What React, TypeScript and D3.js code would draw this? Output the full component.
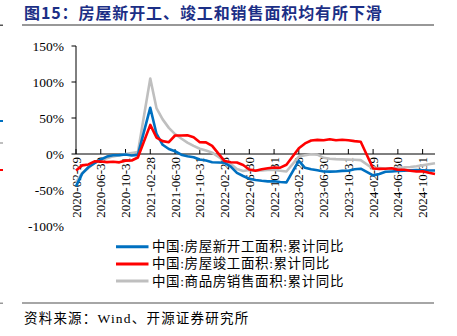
import React from "react";
import * as d3 from "d3";

const years = [2020, 2021, 2022, 2023, 2024];
const months = [2, 3, 4, 5, 6, 7, 8, 9, 10, 11, 12];

const newStarts = [
  -44.9, -27.2, -18.4, -12.8, -7.6, -3.6, -1.7, -1.5, -0.8, -2.0, -1.2,
  64.3, 28.2, 12.8, 6.9, 3.8, -0.9, -3.2, -4.5, -7.7, -9.1, -11.4,
  -12.2, -17.5, -26.3, -30.6, -34.4, -36.1, -37.2, -38.0, -37.8, -38.9, -39.4,
  -9.4, -19.2, -21.2, -22.6, -24.3, -24.5, -24.4, -23.4, -23.2, -21.2, -20.4,
  -29.7, -27.8, -24.6, -24.2, -23.7, -23.2, -22.5, -22.2, -22.6, -23.0, -23.0,
];
const completions = [
  -22.9, -15.8, -14.5, -10.3, -10.5, -11.3, -10.8, -11.6, -9.2, -9.0, -4.9,
  40.4, 22.9, 17.9, 16.4, 25.7, 25.7, 26.0, 23.4, 16.3, 16.2, 11.2,
  -9.8, -11.5, -11.9, -15.3, -21.5, -23.3, -21.1, -19.9, -18.7, -19.0, -15.0,
  8.0, 14.7, 18.8, 19.6, 19.0, 20.5, 19.2, 19.8, 19.0, 17.9, 17.0,
  -20.2, -20.7, -20.4, -19.8, -21.8, -21.8, -23.2, -24.4, -23.9, -26.0, -27.7,
];
const sales = [
  -39.9, -26.3, -19.3, -12.3, -8.4, -5.8, -3.3, -1.8, 0.0, 1.3, 2.6,
  104.9, 63.8, 48.1, 36.3, 27.7, 21.5, 15.9, 11.3, 7.3, 4.8, 1.9,
  -9.6, -13.8, -20.9, -23.6, -22.2, -23.1, -23.0, -22.2, -22.3, -23.3, -24.3,
  -3.6, -1.8, -0.4, -0.9, -5.3, -6.5, -7.1, -7.5, -7.8, -8.0, -8.5,
  -20.5, -19.4, -20.2, -20.3, -19.0, -18.6, -18.0, -17.1, -15.8, -14.3, -12.9,
];

const tickLabels = [
  "2020-02-29", "2020-06-30", "2020-10-31", "2021-02-28", "2021-06-30",
  "2021-10-31", "2022-02-28", "2022-06-30", "2022-10-31", "2023-02-28",
  "2023-06-30", "2023-10-31", "2024-02-29", "2024-06-30", "2024-10-31",
];
const yTicks = [-100, -50, 0, 50, 100, 150];

const seriesNames = [
  "中国:房屋新开工面积:累计同比",
  "中国:房屋竣工面积:累计同比",
  "中国:商品房销售面积:累计同比",
];
const seriesColors = ["#0070c0", "#ff0000", "#bfbfbf"];

const periods = years.flatMap((y) => months.map((m) => ({ y, m })));
const monthIndex = (y: number, m: number) => (y - 2020) * 12 + (m - 2);

const SERIF = "'Liberation Serif', 'Times New Roman', 'Noto Sans CJK SC', serif";

export default function App() {
  const x = d3.scaleLinear().domain([0, 58]).range([76, 435]);
  const y = d3.scaleLinear().domain([-100, 150]).range([226, 46]);

  const mk = (vals: number[]) =>
    vals.map((v, i) => ({ i: monthIndex(periods[i].y, periods[i].m), v }));
  const line = d3
    .line<{ i: number; v: number }>()
    .x((d) => x(d.i))
    .y((d) => y(d.v));

  const all = [newStarts, completions, sales];
  const drawOrder = [2, 0, 1];

  return (
    <svg
      width={457}
      height={336}
      style={{ position: "absolute", left: 0, top: 0, background: "#fff" }}
    >
      {/* stray edge marks */}
      <rect x={0} y={24.5} width={3} height={1.5} fill="#555" />
      <rect x={0} y={120} width={3} height={2} fill="#0070c0" />
      <rect x={0} y={142} width={3} height={2} fill="#bfbfbf" />
      <rect x={0} y={169} width={3} height={2} fill="#ff0000" />
      <rect x={0} y={302.5} width={3} height={1.5} fill="#999" />

      {/* title */}
      <text
        x={24}
        y={19}
        fontFamily="'Noto Sans CJK SC', sans-serif"
        fontWeight="bold"
        fontSize={16}
        letterSpacing={0.9}
        fill="#1c2f86"
      >
        图15：房屋新开工、竣工和销售面积均有所下滑
      </text>
      <line x1={22} x2={434} y1={25} y2={25} stroke="#333" strokeWidth={1.2} />

      {/* y axis */}
      <line x1={76} x2={76} y1={y(150)} y2={y(0)} stroke="#000" strokeWidth={1} />
      {yTicks.map((t) => (
        <g key={t}>
          {t >= 0 && (
            <line x1={71.5} x2={76} y1={y(t)} y2={y(t)} stroke="#000" strokeWidth={1} />
          )}
          <text
            x={64}
            y={y(t)}
            textAnchor="end"
            dominantBaseline="central"
            fontFamily={SERIF}
            fontSize={13.5}
            fill="#000"
          >
            {t}%
          </text>
        </g>
      ))}

      {/* x axis */}
      <line x1={76} x2={435} y1={y(0)} y2={y(0)} stroke="#000" strokeWidth={1} />
      {tickLabels.map((lab) => {
        const [yy, mm] = lab.split("-").map(Number);
        const xi = x(monthIndex(yy, mm));
        return (
          <g key={lab}>
            <line x1={xi} x2={xi} y1={y(0) - 5} y2={y(0)} stroke="#000" strokeWidth={1} />
            <text
              transform={`translate(${xi},${y(0) + 3}) rotate(-90)`}
              textAnchor="end"
              dominantBaseline="central"
              fontFamily={SERIF}
              fontSize={13}
              fill="#000"
            >
              {lab}
            </text>
          </g>
        );
      })}

      {/* series */}
      {drawOrder.map((k) => (
        <path
          key={k}
          d={line(mk(all[k])) || ""}
          fill="none"
          stroke={seriesColors[k]}
          strokeWidth={2.6}
          strokeLinejoin="round"
        />
      ))}

      {/* legend */}
      {seriesNames.map((n, k) => {
        const ly = 246.7 + k * 17.2;
        return (
          <g key={n}>
            <line x1={116} x2={148.5} y1={ly} y2={ly} stroke={seriesColors[k]} strokeWidth={3} />
            <text
              x={152}
              y={ly}
              dominantBaseline="central"
              fontFamily={SERIF}
              fontSize={13.5}
              letterSpacing={0.6}
              fill="#000"
            >
              {n}
            </text>
          </g>
        );
      })}

      {/* source */}
      <line x1={22} x2={434} y1={303} y2={303} stroke="#888" strokeWidth={1.3} />
      <text
        x={24}
        y={318}
        dominantBaseline="central"
        fontFamily={SERIF}
        fontSize={13.5}
        letterSpacing={1.2}
        fill="#000"
      >
        资料来源：Wind、开源证券研究所
      </text>
    </svg>
  );
}
